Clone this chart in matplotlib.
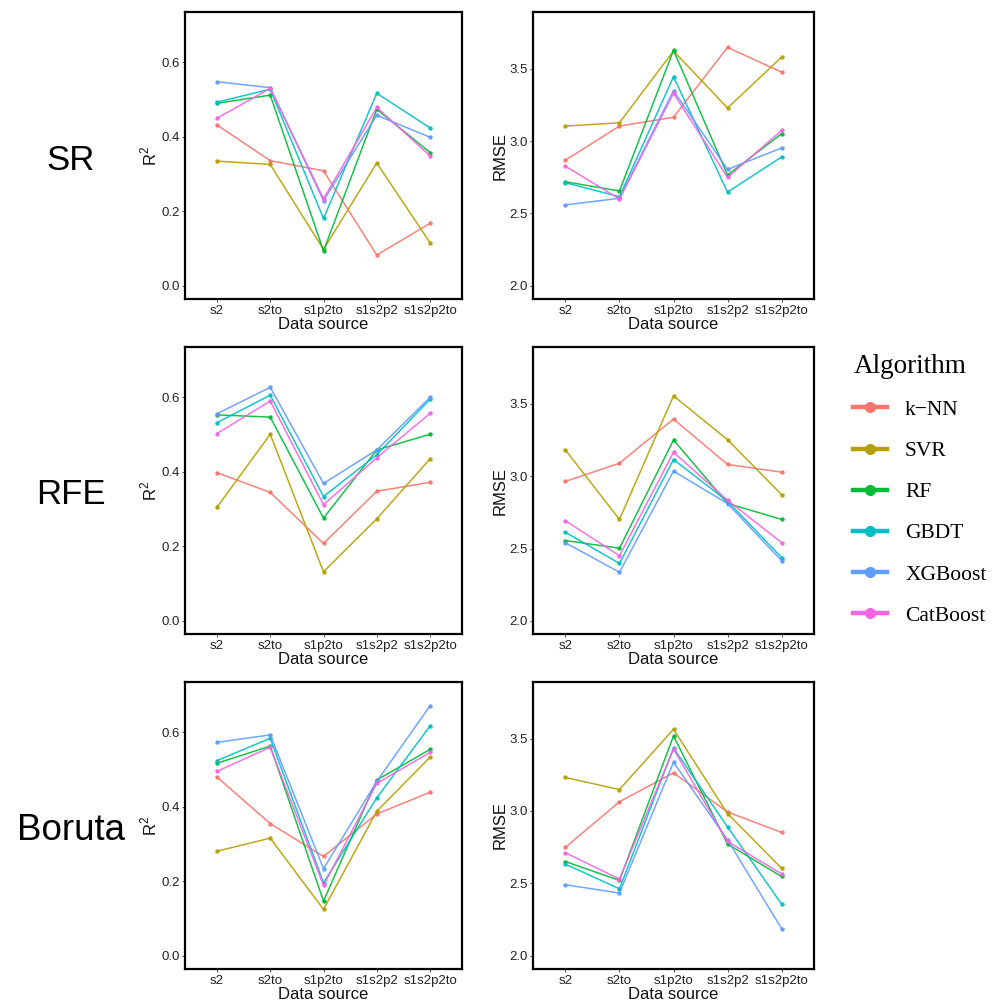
import matplotlib
matplotlib.use("Agg")
import matplotlib.pyplot as plt
from matplotlib.lines import Line2D

plt.rcParams['font.family'] = ['Liberation Sans', 'DejaVu Sans']
plt.rcParams['mathtext.fontset'] = 'custom'
plt.rcParams['mathtext.rm'] = 'Liberation Sans'

sources = ['s2', 's2to', 's1p2to', 's1s2p2', 's1s2p2to']
algorithms = ['k\u2212NN', 'SVR', 'RF', 'GBDT', 'XGBoost', 'CatBoost']
colors = ['#F8766D', '#B79F00', '#00BA38', '#00BFC4', '#619CFF', '#F564E3']
methods = ['SR', 'RFE', 'Boruta']

# R2 values, one list per algorithm (k-NN, SVR, RF, GBDT, XGBoost, CatBoost)
sr_r2 = [
    [0.432, 0.336, 0.309, 0.083, 0.168],
    [0.335, 0.326, 0.098, 0.330, 0.116],
    [0.490, 0.512, 0.094, 0.474, 0.358],
    [0.493, 0.528, 0.181, 0.517, 0.424],
    [0.548, 0.532, 0.229, 0.458, 0.399],
    [0.450, 0.530, 0.234, 0.479, 0.349],
]
rfe_r2 = [
    [0.398, 0.345, 0.208, 0.348, 0.372],
    [0.305, 0.501, 0.132, 0.274, 0.435],
    [0.553, 0.547, 0.276, 0.459, 0.501],
    [0.532, 0.606, 0.334, 0.446, 0.595],
    [0.556, 0.627, 0.369, 0.459, 0.600],
    [0.503, 0.590, 0.312, 0.438, 0.557],
]
boruta_r2 = [
    [0.480, 0.355, 0.267, 0.381, 0.439],
    [0.281, 0.316, 0.125, 0.388, 0.533],
    [0.517, 0.563, 0.147, 0.472, 0.554],
    [0.524, 0.584, 0.196, 0.424, 0.617],
    [0.573, 0.593, 0.234, 0.468, 0.671],
    [0.495, 0.560, 0.189, 0.463, 0.546],
]

# RMSE values
sr_rmse = [
    [2.868, 3.103, 3.164, 3.646, 3.475],
    [3.103, 3.126, 3.621, 3.228, 3.578],
    [2.719, 2.655, 3.626, 2.765, 3.050],
    [2.712, 2.616, 3.443, 2.647, 2.890],
    [2.559, 2.605, 3.347, 2.804, 2.952],
    [2.826, 2.600, 3.329, 2.749, 3.073],
]
rfe_rmse = [
    [2.963, 3.089, 3.393, 3.080, 3.027],
    [3.180, 2.701, 3.553, 3.251, 2.872],
    [2.555, 2.502, 3.249, 2.811, 2.701],
    [2.612, 2.397, 3.114, 2.826, 2.438],
    [2.540, 2.336, 3.034, 2.810, 2.416],
    [2.692, 2.450, 3.164, 2.833, 2.541],
]
boruta_rmse = [
    [2.749, 3.064, 3.263, 2.993, 2.852],
    [3.231, 3.148, 3.564, 2.982, 2.605],
    [2.651, 2.521, 3.518, 2.772, 2.548],
    [2.633, 2.463, 3.434, 2.890, 2.358],
    [2.491, 2.434, 3.336, 2.800, 2.189],
    [2.712, 2.530, 3.427, 2.790, 2.566],
]

r2_data = [sr_r2, rfe_r2, boruta_r2]
rmse_data = [sr_rmse, rfe_rmse, boruta_rmse]

fig = plt.figure(figsize=(10, 10.01), dpi=100)

col_left = [0.185, 0.533]
col_width = [0.277, 0.281]
row_bottom = [0.7013, 0.3666, 0.032]
row_height = 0.2867
row_label_y = [160, 495, 830]
row_label_size = [25, 25, 26.5]


def draw_panel(ax, data, ylim, ticks, ylabel):
    x = list(range(1, len(sources) + 1))
    for vals, c in zip(data, colors):
        ax.plot(x, vals, color=c, lw=1.1, marker='o', ms=2.2, alpha=0.9)
    ax.set_xlim(0.4, 5.6)
    pad = (ylim[1] - ylim[0]) * 0.05
    ax.set_ylim(ylim[0] - pad, ylim[1] + pad)
    ax.set_yticks(ticks)
    ax.set_yticklabels(['%.1f' % t for t in ticks])
    ax.set_xticks(x)
    ax.set_xticklabels(sources)
    ax.tick_params(labelsize=9.5, colors='#333333', length=2.0, width=0.6,
                   pad=2.0, labelcolor='#222222')
    for s in ax.spines.values():
        s.set_linewidth(1.6)
        s.set_color('black')
    ax.set_xlabel('Data source', fontsize=12, labelpad=0.5, color='#111111')
    ax.set_ylabel(ylabel, fontsize=12, labelpad=1, color='#111111')


for i in range(3):
    ax1 = fig.add_axes([col_left[0], row_bottom[i], col_width[0], row_height])
    draw_panel(ax1, r2_data[i], (0.0, 0.7), [0.0, 0.2, 0.4, 0.6], r'R$^2$')
    ax2 = fig.add_axes([col_left[1], row_bottom[i], col_width[1], row_height])
    draw_panel(ax2, rmse_data[i], (2.0, 3.8), [2.0, 2.5, 3.0, 3.5], 'RMSE')
    fig.text(0.071, 1 - row_label_y[i] / 1001, methods[i],
             fontsize=row_label_size[i], ha='center', va='center')

handles = [Line2D([0], [0], color=c, lw=3.2, marker='o', ms=7) for c in colors]
leg = fig.legend(handles, algorithms, loc='upper left',
                 bbox_to_anchor=(0.834, 0.666), frameon=False,
                 title='Algorithm', alignment='left',
                 prop={'family': 'Liberation Serif', 'size': 15.5},
                 handlelength=1.55, labelspacing=0.98, handletextpad=0.85)
leg.get_title().set_fontfamily('Liberation Serif')
leg.get_title().set_fontsize(19.5)

plt.savefig('out.png', dpi=100)
